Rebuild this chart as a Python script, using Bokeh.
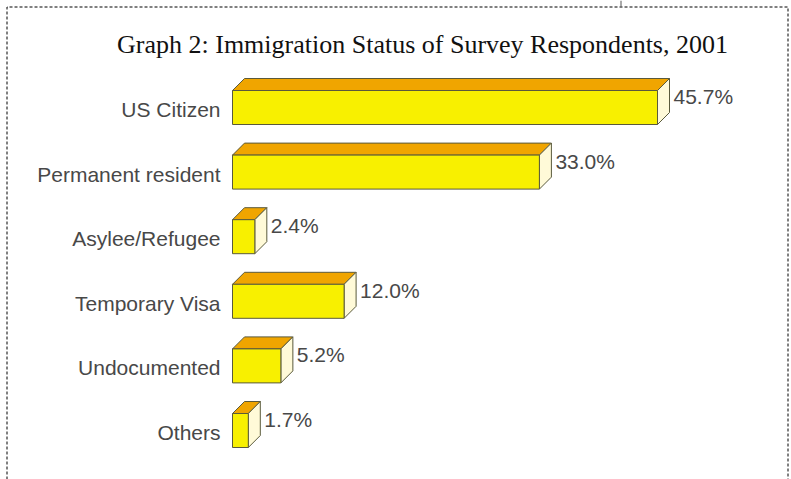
from bokeh.plotting import figure
from bokeh.models import Range1d, ColumnDataSource
from bokeh.core.properties import value
from bokeh.embed import file_html
from bokeh.resources import INLINE

categories = ["US Citizen", "Permanent resident", "Asylee/Refugee",
              "Temporary Visa", "Undocumented", "Others"]
percents = [45.7, 33.0, 2.4, 12.0, 5.2, 1.7]
value_labels = ["45.7%", "33.0%", "2.4%", "12.0%", "5.2%", "1.7%"]
title_text = "Graph 2: Immigration Status of Survey Respondents, 2001"

W, H = 791, 479
X0_PX = 232.0      # pixel of 0%
PX_PER_PCT = 9.3
ROW0_PX = 107.0
ROW_PX = 64.6
DEPTH_PX = 12.0
FRONT_H_PX = 34.0

x_start = -X0_PX / PX_PER_PCT
x_end = (W - X0_PX) / PX_PER_PCT
y_top = -ROW0_PX / ROW_PX
y_bot = (H - ROW0_PX) / ROW_PX

def px_x(px):
    return x_start + px / PX_PER_PCT

def px_y(py):
    return y_top + py / ROW_PX

p = figure(width=W, height=H, output_backend="svg", toolbar_location=None,
           x_range=Range1d(x_start, x_end), y_range=Range1d(y_bot, y_top),
           min_border=0, min_border_left=0, min_border_right=0,
           min_border_top=0, min_border_bottom=0)
p.axis.visible = False
p.grid.visible = False
p.outline_line_color = None
p.background_fill_color = "white"
p.border_fill_color = "white"

dx = DEPTH_PX / PX_PER_PCT
dy = DEPTH_PX / ROW_PX
h = FRONT_H_PX / ROW_PX

idx = list(range(len(categories)))
tops = [i - h / 2 for i in idx]
bots = [i + h / 2 for i in idx]

front = ColumnDataSource(dict(left=[0] * len(idx), right=percents, top=tops, bottom=bots))
top_xs = [[0, v, v + dx, dx] for v in percents]
top_ys = [[t, t, t - dy, t - dy] for t in tops]
side_xs = [[v, v + dx, v + dx, v] for v in percents]
side_ys = [[t, t - dy, b - dy, b] for t, b in zip(tops, bots)]

edge = "#5a5a3c"
p.patches(top_xs, top_ys, fill_color="#F0A500", line_color=edge, line_width=1)
p.patches(side_xs, side_ys, fill_color="#FFFAD8", line_color=edge, line_width=1)
p.quad(left="left", right="right", top="top", bottom="bottom", source=front,
       fill_color="#F8F000", line_color=edge, line_width=1)

# category labels
p.text(x=[-12 / PX_PER_PCT] * len(idx), y=[i + 2 / ROW_PX for i in idx], text=categories,
       text_align="right", text_baseline="middle", text_font=value("Liberation Sans"),
       text_font_size="21px", text_color="#484848")

# value labels
p.text(x=[v + dx + 4 / PX_PER_PCT for v in percents], y=[t + 6 / ROW_PX for t in tops],
       text=value_labels, text_align="left", text_baseline="middle",
       text_font=value("Liberation Sans"), text_font_size="21px", text_color="#484848")

# title
p.text(x=[px_x(422)], y=[px_y(44)], text=[title_text], text_align="center",
       text_baseline="middle", text_font=value("Liberation Serif"),
       text_font_size="26px", text_color="#111111")

# dashed frame (no bottom edge visible)
p.line([px_x(6.5), px_x(6.5), px_x(787.5), px_x(787.5)],
       [px_y(H + 5), px_y(6.5), px_y(6.5), px_y(H + 5)],
       line_color="black", line_width=1, line_dash="3 2")
p.line([px_x(620.5), px_x(620.5)], [px_y(0), px_y(6)], line_color="#555555", line_width=1)

open("out.html", "w").write(file_html(p, INLINE))
